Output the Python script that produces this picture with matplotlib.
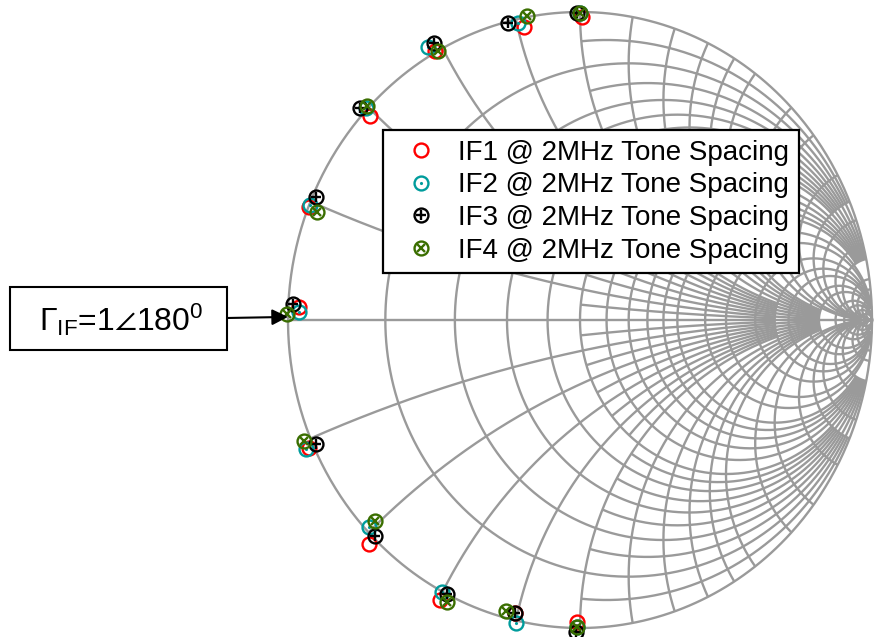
#coding=utf8
# Smith chart with the measured IF reflection coefficients (4 IF ports, 2MHz tone spacing)
import numpy as np
import matplotlib
matplotlib.use('Agg')
import matplotlib.pyplot as plt
from matplotlib.patches import Rectangle
from matplotlib.legend_handler import HandlerTuple

plt.rcParams['font.family'] = ['Liberation Sans', 'DejaVu Sans']
plt.rcParams['mathtext.fontset'] = 'custom'
plt.rcParams['mathtext.rm'] = 'Liberation Sans'
plt.rcParams['mathtext.it'] = 'Liberation Sans:italic'
plt.rcParams['mathtext.fallback'] = 'stixsans'

# DATA: reflection coefficient, magnitude and angle (deg)
if1_mag = [0.985, 0.970, 1.006, 0.978, 0.997, 0.962, 1.016, 1.024, 1.028, 0.978, 0.980]
if1_ang = [89.7, 101.4, 119.6, 137.4, 158.4, 177.4, 204.2, 225.2, 242.2, 256.8, 269.3]
if2_mag = [0.997, 0.988, 1.028, 1.005, 0.997, 0.962, 1.028, 0.987, 1.003, 1.009, 0.997]
if2_ang = [90.0, 102.4, 120.4, 136.8, 158.0, 178.4, 204.1, 223.0, 241.8, 257.4, 269.4]
if3_mag = [0.998, 0.996, 1.028, 1.020, 0.988, 0.985, 0.990, 0.992, 1.000, 0.976, 1.012]
if3_ang = [90.5, 104.3, 119.1, 137.6, 156.2, 177.0, 204.0, 224.9, 242.8, 256.8, 269.2]
if4_mag = [0.996, 1.004, 1.000, 1.008, 0.968, 1.003, 1.023, 0.959, 1.022, 0.979, 0.998]
if4_ang = [90.0, 100.5, 119.0, 136.4, 158.7, 178.8, 202.6, 222.9, 243.5, 254.9, 269.4]

labels = ['IF1 @ 2MHz Tone Spacing', 'IF2 @ 2MHz Tone Spacing',
          'IF3 @ 2MHz Tone Spacing', 'IF4 @ 2MHz Tone Spacing']

# Smith grid values: main lines run from the rim, fine lines only between 1 and 5
grid_main = [0.2, 0.4, 0.6, 0.8, 1.0, 1.2, 1.4, 1.6, 1.8, 2.0, 2.5, 3, 4, 5, 6, 8, 10, 15, 20, 30, 50]
grid_fine = [0.1, 0.3, 0.5, 0.7, 0.9]

grid_color = '#9a9a9a'
grid_lw = 1.7

def gamma(z):
    return (z - 1) / (z + 1)

def line_limit(v):
    # how far each grid line runs
    if v <= 2:
        return 10.0
    if v <= 10:
        return 50.0
    return 1e4

def grid_line(v, a, b):
    th = np.linspace(np.arctan(a), np.arctan(b), 600)
    p = np.tan(th)
    # resistance circle, both halves
    for s in (1, -1):
        g = gamma(v + 1j * s * p)
        ax.plot(g.real, g.imag, color=grid_color, lw=grid_lw, zorder=1, solid_capstyle='butt')
    # reactance arcs
    for s in (1, -1):
        g = gamma(p + 1j * s * v)
        ax.plot(g.real, g.imag, color=grid_color, lw=grid_lw, zorder=1, solid_capstyle='butt')

fig = plt.figure(figsize=(8.74, 6.37), dpi=100)
ax = fig.add_axes([0, 0, 1, 1])

# outer circle and real axis
t = np.linspace(0, 2 * np.pi, 800)
ax.plot(np.cos(t), np.sin(t), color=grid_color, lw=grid_lw, zorder=1)
ax.plot([-1, 1], [0, 0], color=grid_color, lw=grid_lw, zorder=1)

for v in grid_main:
    grid_line(v, 0.0, line_limit(v))
for v in grid_fine:
    grid_line(v, 1.0, 5.0)

# measured points
def pts(mag, ang):
    g = np.array(mag) * np.exp(1j * np.deg2rad(ang))
    return g.real, g.imag

ms = 10
mew = 1.7
handles = []

x, y = pts(if1_mag, if1_ang)
h1 = ax.plot(x, y, 'o', ls='none', mfc='none', mec='#ff0000', ms=ms, mew=mew, zorder=3)[0]
handles.append((h1,))

x, y = pts(if2_mag, if2_ang)
h2a = ax.plot(x, y, 'o', ls='none', mfc='none', mec='#009c9c', ms=ms, mew=mew, zorder=4)[0]
h2b = ax.plot(x, y, '.', ls='none', color='#009c9c', ms=2.5, zorder=4)[0]
handles.append((h2a, h2b))

x, y = pts(if3_mag, if3_ang)
h3a = ax.plot(x, y, 'o', ls='none', mfc='none', mec='black', ms=ms, mew=mew, zorder=5)[0]
h3b = ax.plot(x, y, '+', ls='none', color='black', ms=7, mew=mew, zorder=5)[0]
handles.append((h3a, h3b))

x, y = pts(if4_mag, if4_ang)
h4a = ax.plot(x, y, 'o', ls='none', mfc='none', mec='#3a6e00', ms=ms, mew=mew, zorder=6)[0]
h4b = ax.plot(x, y, 'x', ls='none', color='#3a6e00', ms=6, mew=mew, zorder=6)[0]
handles.append((h4a, h4b))

# legend
leg = ax.legend(handles, labels, handler_map={tuple: HandlerTuple(ndivide=1)},
                loc='upper left', bbox_to_anchor=(383 / 874., 1 - 130 / 637.),
                bbox_transform=fig.transFigure, borderaxespad=0, fontsize=20,
                frameon=True, fancybox=False, framealpha=1, edgecolor='black',
                borderpad=0.35, handlelength=2.0, handletextpad=0.35, labelspacing=0.24)
leg.get_frame().set_linewidth(1.6)
leg.set_zorder(10)

# annotation box + arrow pointing at gamma = -1
fig.patches.append(Rectangle((10 / 874., 1 - 350 / 637.), 217 / 874., 63 / 637.,
                             transform=fig.transFigure, fc='white', ec='black', lw=1.5, zorder=11))
fig.text(121 / 874., 1 - 320 / 637., r'$\Gamma_{\mathrm{IF}}$=1$\angle$180$^{0}$',
         ha='center', va='center', fontsize=23, zorder=12)
ax.annotate('', xy=(-1.0, 0.01), xycoords='data',
            xytext=(227 / 874., 1 - 318 / 637.), textcoords='figure fraction',
            arrowprops=dict(arrowstyle='-|>', color='black', lw=1.5, mutation_scale=24,
                            shrinkA=0, shrinkB=0), zorder=11)

ax.set_xlim(-580 / 292., 294 / 292.)
ax.set_ylim((320 - 637) / 308., 320 / 308.)
ax.axis('off')

fig.savefig('out.png', dpi=100, facecolor='white')
